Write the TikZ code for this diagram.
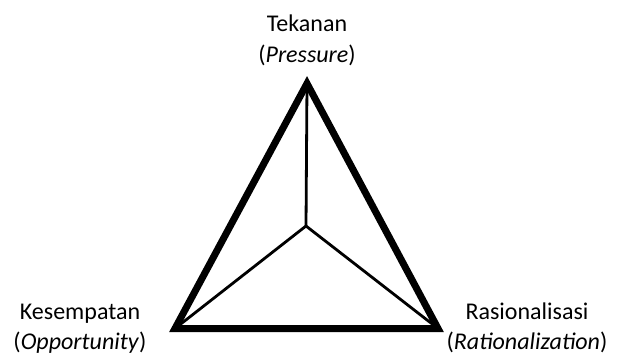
\documentclass[tikz,border=0pt]{standalone}
\usepackage{fontspec}
\setmainfont{Carlito}
\usetikzlibrary{positioning}

\begin{document}
\begin{tikzpicture}[
    x=1pt, y=1pt,
    factor/.style={align=center, inner sep=0pt, anchor=north, font=\fontsize{24}{30.5}\selectfont},
    outer/.style={line width=7pt, line join=miter},
    inner/.style={line width=2.8pt}
]
\useasboundingbox (0,0) rectangle (617,356);

\coordinate (top) at (307,272.5);
\coordinate (left) at (175,27.5);
\coordinate (right) at (438,27.5);
\coordinate (mid) at (306,130);

\node[factor] (tekanan) at (307,341) {Tekanan\\(\textit{Pressure})};
\node[factor] (kesempatan) at (80,52.5) {Kesempatan\\(\textit{Opportunity})};
\node[factor] (rasional) at (527,53.5) {Rasionalisasi\\(\textit{Rationalization})};

\draw[outer] (top) -- (left) -- (right) -- cycle;

\draw[inner] (mid) -- (top);
\draw[inner] (mid) -- (left);
\draw[inner] (mid) -- (right);

\end{tikzpicture}
\end{document}
